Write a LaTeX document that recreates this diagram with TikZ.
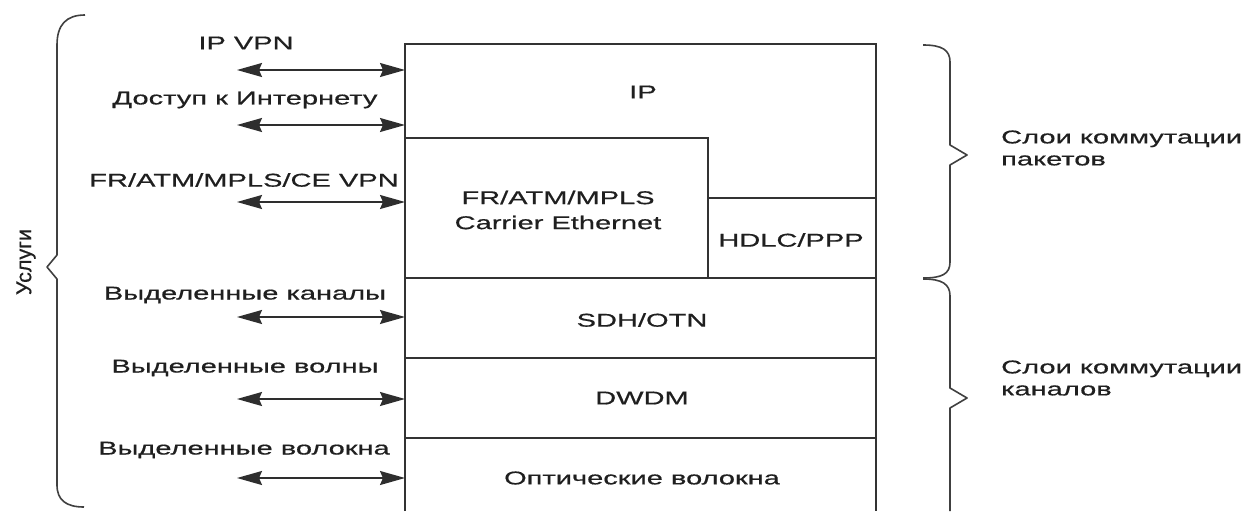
\documentclass[tikz,border=0pt]{standalone}
\usepackage{fontspec}
\setmainfont[FakeStretch=1.57,FakeBold=0.6]{Liberation Sans}
\newfontfamily\plainsans[FakeBold=0.6]{Liberation Sans}
\usetikzlibrary{arrows.meta}
\begin{document}
\begin{tikzpicture}[x=1pt,y=-1pt,
  layerline/.style={draw=black!80, line width=1.7pt},
  lbl/.style={font=\fontsize{18.5}{25}\selectfont, text=black!88, inner sep=0pt, align=center},
  rlbl/.style={font=\fontsize{18.5}{22}\selectfont, text=black!88, inner sep=0pt, align=left, anchor=west},
  svc/.style={line width=1.7pt, draw=black!82, {Stealth[length=25pt,width=14pt,inset=3pt]}-{Stealth[length=25pt,width=14pt,inset=3pt]}},
  bracepath/.style={draw=black!75, line width=1.6pt, line join=round}]
\useasboundingbox (0,0) rectangle (1246,511);
\fill[white] (0,0) rectangle (1246,511);

% layer stack
\coordinate (tl) at (405,44);
\coordinate (tr) at (876,44);
\coordinate (bl) at (405,511);
\coordinate (br) at (876,511);
\draw[layerline] (bl) -- (tl) -- (tr) -- (br);
\draw[layerline] (405,138) -- (708,138) -- (708,278);
\draw[layerline] (708,198) -- (876,198);
\draw[layerline] (405,278) -- (876,278);
\draw[layerline] (405,358) -- (876,358);
\draw[layerline] (405,438) -- (876,438);

% layer texts
\node[lbl] (ip) at (643,92) {IP};
\node[lbl] (fr) at (558,210) {FR/ATM/MPLS\\Carrier Ethernet};
\node[lbl] (hdlc) at (791,240) {HDLC/PPP};
\node[lbl] (sdh) at (642,320) {SDH/OTN};
\node[lbl] (dwdm) at (642,398) {DWDM};
\node[lbl] (opt) at (642,478) {Оптические волокна};

% services
\node[lbl] (l1) at (246,43) {IP VPN};
\node[lbl] (l2) at (245,100) {Доступ к Интернету};
\node[lbl] (l3) at (244,180) {FR/ATM/MPLS/CE VPN};
\node[lbl] (l4) at (245,295) {Выделенные каналы};
\node[lbl] (l5) at (245,368) {Выделенные волны};
\node[lbl] (l6) at (244,450) {Выделенные волокна};

\coordinate (s1) at (237,70);  \coordinate (e1) at (405,70);
\coordinate (s2) at (237,125); \coordinate (e2) at (405,125);
\coordinate (s3) at (237,202); \coordinate (e3) at (405,202);
\coordinate (s4) at (237,317); \coordinate (e4) at (405,317);
\coordinate (s5) at (237,399); \coordinate (e5) at (405,399);
\coordinate (s6) at (237,478); \coordinate (e6) at (405,478);
\foreach \i in {1,...,6} { \draw[svc] (s\i) -- (e\i); }

% left brace
\draw[bracepath] (85,15) .. controls (66,15) and (57,25) .. (57,45)
  -- (57,255) -- (47,267) -- (57,279) -- (57,485)
  .. controls (57,500) and (66,507) .. (84,507);
\node[lbl, rotate=90, font=\plainsans\fontsize{21.5}{22}\selectfont] (usl) at (26,262) {Услуги};

% right braces
\draw[bracepath] (923,45) .. controls (942,45) and (950,50) .. (950,62)
  -- (950,145) -- (967,155) -- (950,165) -- (950,262)
  .. controls (950,274) and (942,278) .. (923,278);
\draw[bracepath] (923,279) .. controls (942,279) and (950,284) .. (950,296)
  -- (950,388) -- (967,398) -- (950,408) -- (950,511);
\node[rlbl] (pk) at (1001,148) {Слои коммутации\\пакетов};
\node[rlbl] (kn) at (1001,378) {Слои коммутации\\каналов};
\end{tikzpicture}
\end{document}
